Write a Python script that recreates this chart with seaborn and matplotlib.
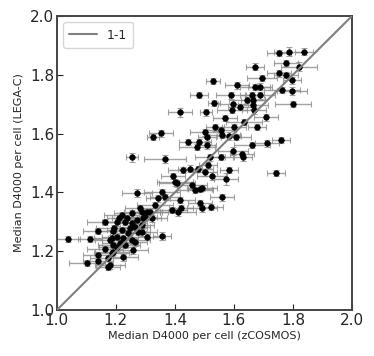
import numpy as np
import pandas as pd
import seaborn as sns
import matplotlib
matplotlib.use("Agg")
import matplotlib.pyplot as plt

# median D4000 per cell (zCOSMOS on x, LEGA-C on y)
d4000_zcosmos = [
    1.786, 1.837, 1.753, 1.671, 1.776, 1.820, 1.752, 1.776, 1.695, 1.797,
    1.529, 1.610, 1.671, 1.688, 1.763, 1.797, 1.481, 1.590, 1.661, 1.688,
    1.644, 1.664, 1.532, 1.597, 1.620, 1.664, 1.800, 1.505, 1.593, 1.668,
    1.569, 1.708, 1.634, 1.536, 1.556, 1.600, 1.678, 1.502, 1.559, 1.583,
    1.607, 1.508, 1.481, 1.508, 1.661, 1.712, 1.759, 1.597, 1.627, 1.519,
    1.556, 1.631, 1.475,
    1.417, 1.353, 1.325, 1.444, 1.254, 1.366,
    1.393, 1.400, 1.427, 1.451, 1.478, 1.502, 1.512, 1.525, 1.583, 1.573,
    1.742, 1.458, 1.468, 1.485, 1.492, 1.407, 1.271, 1.356, 1.366, 1.342,
    1.417, 1.559, 1.332, 1.420, 1.390, 1.410, 1.485, 1.492, 1.522, 1.315,
    1.281, 1.288, 1.305, 1.254, 1.298, 1.271, 1.292, 1.322, 1.220, 1.237,
    1.210,
    1.163, 1.203, 1.231, 1.254, 1.288, 1.247, 1.264, 1.193, 1.139, 1.190,
    1.220, 1.241, 1.275, 1.288, 1.305, 1.356, 1.203, 1.186, 1.224, 1.254,
    1.180, 1.214, 1.190, 1.203, 1.231, 1.264, 1.163, 1.258, 1.186, 1.139,
    1.173, 1.224, 1.102, 1.139, 1.173, 1.180, 1.190, 1.037, 1.112,
]
d4000_legac = [
    1.878, 1.878, 1.874, 1.827, 1.840, 1.827, 1.806, 1.799, 1.789, 1.782,
    1.779, 1.765, 1.759, 1.759, 1.748, 1.745, 1.731, 1.731, 1.731, 1.731,
    1.714, 1.714, 1.704, 1.701, 1.690, 1.697, 1.701, 1.673, 1.680, 1.680,
    1.653, 1.656, 1.639, 1.622, 1.612, 1.622, 1.622, 1.605, 1.595, 1.592,
    1.588, 1.588, 1.571, 1.561, 1.561, 1.568, 1.578, 1.541, 1.531, 1.520,
    1.520, 1.520, 1.554,
    1.673, 1.602, 1.588, 1.571, 1.520, 1.514,
    1.456, 1.435, 1.476, 1.480, 1.480, 1.469, 1.493, 1.456, 1.476, 1.446,
    1.466, 1.425, 1.408, 1.412, 1.415, 1.432, 1.398, 1.401, 1.384, 1.381,
    1.374, 1.384, 1.357, 1.347, 1.340, 1.333, 1.364, 1.347, 1.350, 1.333,
    1.347, 1.333, 1.333, 1.330, 1.316, 1.306, 1.313, 1.313, 1.323, 1.313,
    1.313,
    1.299, 1.299, 1.299, 1.296, 1.289, 1.279, 1.282, 1.279, 1.269, 1.269,
    1.272, 1.262, 1.265, 1.265, 1.248, 1.252, 1.248, 1.245, 1.245, 1.238,
    1.238, 1.228, 1.221, 1.214, 1.221, 1.231, 1.207, 1.204, 1.194, 1.187,
    1.177, 1.180, 1.160, 1.167, 1.146, 1.153, 1.197, 1.241, 1.241,
]
# estimated half-widths of the error bars
err_zcosmos = [
    0.050, 0.030, 0.040, 0.030, 0.040, 0.060, 0.040, 0.040, 0.050, 0.030,
    0.025, 0.040, 0.050, 0.040, 0.060, 0.050, 0.030, 0.050, 0.040, 0.050,
    0.060, 0.040, 0.020, 0.050, 0.040, 0.050, 0.060, 0.020, 0.050, 0.040,
    0.040, 0.040, 0.060, 0.030, 0.050, 0.040, 0.030, 0.050, 0.060, 0.040,
    0.050, 0.030, 0.040, 0.030, 0.060, 0.040, 0.030, 0.050, 0.040, 0.050,
    0.040, 0.030, 0.060,
    0.040, 0.040, 0.020, 0.030, 0.020, 0.070,
    0.040, 0.060, 0.050, 0.040, 0.050, 0.040, 0.030, 0.050, 0.030, 0.040,
    0.030, 0.050, 0.060, 0.040, 0.050, 0.060, 0.050, 0.060, 0.050, 0.040,
    0.050, 0.040, 0.060, 0.040, 0.050, 0.060, 0.040, 0.050, 0.040, 0.060,
    0.050, 0.060, 0.050, 0.060, 0.040, 0.050, 0.060, 0.050, 0.060, 0.050,
    0.040,
    0.060, 0.050, 0.060, 0.050, 0.040, 0.060, 0.050, 0.060, 0.050, 0.060,
    0.050, 0.060, 0.040, 0.050, 0.060, 0.030, 0.050, 0.060, 0.050, 0.060,
    0.050, 0.060, 0.050, 0.060, 0.050, 0.040, 0.060, 0.050, 0.060, 0.050,
    0.060, 0.050, 0.060, 0.050, 0.040, 0.050, 0.060, 0.040, 0.040,
]
err_legac = [
    0.015, 0.012, 0.010, 0.012, 0.010, 0.015, 0.012, 0.010, 0.010, 0.012,
    0.010, 0.012, 0.010, 0.012, 0.010, 0.015, 0.010, 0.012, 0.010, 0.012,
    0.010, 0.012, 0.010, 0.012, 0.010, 0.012, 0.010, 0.012, 0.010, 0.012,
    0.010, 0.012, 0.010, 0.012, 0.010, 0.012, 0.010, 0.012, 0.010, 0.012,
    0.010, 0.012, 0.010, 0.012, 0.010, 0.012, 0.010, 0.012, 0.010, 0.012,
    0.010, 0.012, 0.010,
    0.015, 0.012, 0.010, 0.010, 0.015, 0.015,
    0.010, 0.012, 0.010, 0.012, 0.010, 0.012, 0.010, 0.012, 0.010, 0.020,
    0.010, 0.012, 0.010, 0.012, 0.010, 0.012, 0.015, 0.012, 0.010, 0.012,
    0.010, 0.012, 0.010, 0.012, 0.010, 0.012, 0.010, 0.012, 0.010, 0.012,
    0.010, 0.012, 0.010, 0.012, 0.010, 0.012, 0.010, 0.012, 0.010, 0.012,
    0.010,
    0.010, 0.012, 0.010, 0.012, 0.010, 0.012, 0.010, 0.012, 0.010, 0.012,
    0.010, 0.012, 0.010, 0.012, 0.010, 0.012, 0.010, 0.012, 0.010, 0.012,
    0.010, 0.012, 0.010, 0.012, 0.010, 0.012, 0.010, 0.012, 0.010, 0.012,
    0.010, 0.012, 0.010, 0.012, 0.010, 0.012, 0.010, 0.010, 0.010,
]
one_to_one = [1.0, 2.0]

df = pd.DataFrame({"zcosmos": d4000_zcosmos, "legac": d4000_legac,
                   "xerr": err_zcosmos, "yerr": err_legac})

sns.set_style("ticks")
plt.rcParams["font.family"] = ["DejaVu Sans"]

fig = plt.figure(figsize=(3.74, 3.56), dpi=100)
ax = fig.add_axes([0.152, 0.129, 0.789, 0.826])

ax.errorbar(df["zcosmos"], df["legac"], xerr=df["xerr"], yerr=df["yerr"],
            fmt="none", ecolor="#8c8c8c", elinewidth=1.0, capsize=2,
            capthick=0.8, alpha=0.8, zorder=2)
sns.scatterplot(data=df, x="zcosmos", y="legac", color="black", s=16,
                edgecolor="black", linewidth=0.5, ax=ax, zorder=3)
sns.lineplot(x=one_to_one, y=one_to_one, color="gray", linewidth=1.5,
             label="1-1", ax=ax, zorder=4)

ax.set_xlim(1.0, 2.0)
ax.set_ylim(1.0, 2.0)
ticks = [1.0, 1.2, 1.4, 1.6, 1.8, 2.0]
ax.set_xticks(ticks)
ax.set_yticks(ticks)
ax.tick_params(direction="in", length=4, labelsize=11, pad=2)
for sp in ax.spines.values():
    sp.set_visible(True)
    sp.set_color("#444444")
    sp.set_linewidth(1.4)
ax.set_xlabel("Median D4000 per cell (zCOSMOS)", fontsize=8, labelpad=2)
ax.set_ylabel("Median D4000 per cell (LEGA-C)", fontsize=8, labelpad=4)
ax.legend(loc="upper left", fontsize=9, handlelength=2.2, borderpad=0.5)

fig.savefig("out.png", dpi=100)
